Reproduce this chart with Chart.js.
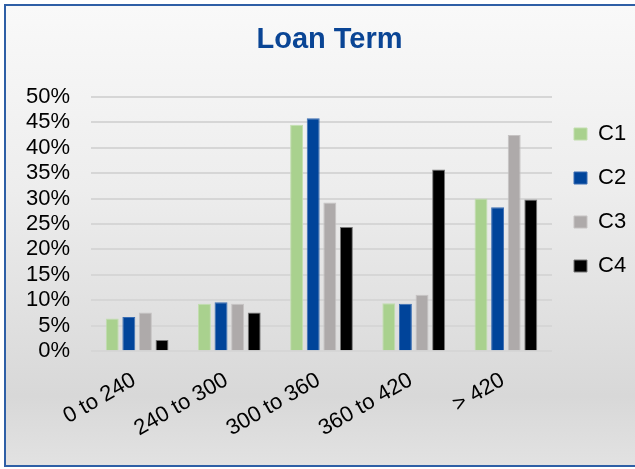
<!DOCTYPE html>
<html>
<head>
<meta charset="utf-8">
<script src="https://cdn.jsdelivr.net/npm/chart.js@4.4.1/dist/chart.umd.min.js"></script>
<style>
  html, body { margin: 0; padding: 0; background: #fff; overflow: hidden; }
  #frame {
    position: absolute; left: 4px; top: 4px; width: 640px; height: 459px;
    border: 2px solid #2e5fa6;
    background: linear-gradient(#f9f9f9 0%, #ededed 40%, #d8d8d8 85%, #e2e2e2 100%);
  }
  /* the original chart runs past the right edge of the crop */
  #wrap { position: absolute; left: 0; top: 0; width: 656px; height: 469px; }
</style>
</head>
<body>
<div id="frame"></div>
<div id="wrap"><canvas id="loanChart" width="656" height="469"></canvas></div>
<script>
// Loan term buckets (months)
const categories = ["0 to 240", "240 to 300", "300 to 360", "360 to 420", "> 420"];
const c1 = [6.4, 9.3, 44.5, 9.4, 30.0];
const c2 = [6.7, 9.6, 45.8, 9.3, 28.3];
const c3 = [7.6, 9.3, 29.2, 11.1, 42.5];
const c4 = [2.2, 7.6, 24.4, 35.7, 29.8];
const yTicks = [0, 5, 10, 15, 20, 25, 30, 35, 40, 45, 50];

const font = "'Liberation Sans', Arial, sans-serif";

// legend box gets a fixed width so the plot ends where Excel's does
const legendWidth = {
  id: "legendWidth",
  afterInit(chart) {
    const legend = chart.legend;
    if (!legend) return;
    const fit = legend.fit;
    legend.fit = function () {
      fit.call(this);
      this.width = 102;
    };
  }
};

const ctx = document.getElementById("loanChart").getContext("2d");
new Chart(ctx, {
  type: "bar",
  data: {
    labels: categories,
    datasets: [
      { label: "C1", data: c1, backgroundColor: "#a9d18e", borderColor: "#c2deae", borderWidth: 1 },
      { label: "C2", data: c2, backgroundColor: "#00449a", borderColor: "#3a6db3", borderWidth: 1 },
      { label: "C3", data: c3, backgroundColor: "#aeaaaa", borderColor: "#c6c3c3", borderWidth: 1 },
      { label: "C4", data: c4, backgroundColor: "#000000", borderColor: "#777777", borderWidth: 1 }
    ]
  },
  plugins: [legendWidth],
  options: {
    responsive: false,
    animation: false,
    layout: { padding: { left: 5, right: 2, top: 0, bottom: 11 } },
    datasets: { bar: { barPercentage: 0.78, categoryPercentage: 0.72 } },
    scales: {
      x: {
        grid: { display: false, drawTicks: false },
        border: { display: false },
        ticks: {
          autoSkip: false,
          minRotation: 30,
          maxRotation: 30,
          padding: 16,
          labelOffset: -3,
          color: "#000",
          font: { family: font, size: 22 }
        }
      },
      y: {
        min: 0,
        max: 50,
        afterBuildTicks: (scale) => { scale.ticks = yTicks.map(v => ({ value: v })); },
        grid: { color: "#d6d6d6", lineWidth: 2, drawTicks: false },
        border: { display: false },
        ticks: {
          autoSkip: false,
          padding: 21,
          color: "#000",
          font: { family: font, size: 22 },
          callback: (v) => v + "%"
        }
      }
    },
    plugins: {
      title: {
        display: true,
        text: "Loan Term",
        color: "#0a4595",
        font: { family: font, size: 29, weight: "bold" },
        padding: { top: 23, bottom: 39 }
      },
      legend: {
        position: "right",
        align: "start",
        title: { display: true, text: " ", font: { size: 5 }, padding: { top: 95, bottom: 0 } },
        labels: {
          boxWidth: 13,
          boxHeight: 12,
          padding: 22,
          color: "#000",
          font: { family: font, size: 22 }
        }
      },
      tooltip: { enabled: false }
    }
  }
});
</script>
</body>
</html>
